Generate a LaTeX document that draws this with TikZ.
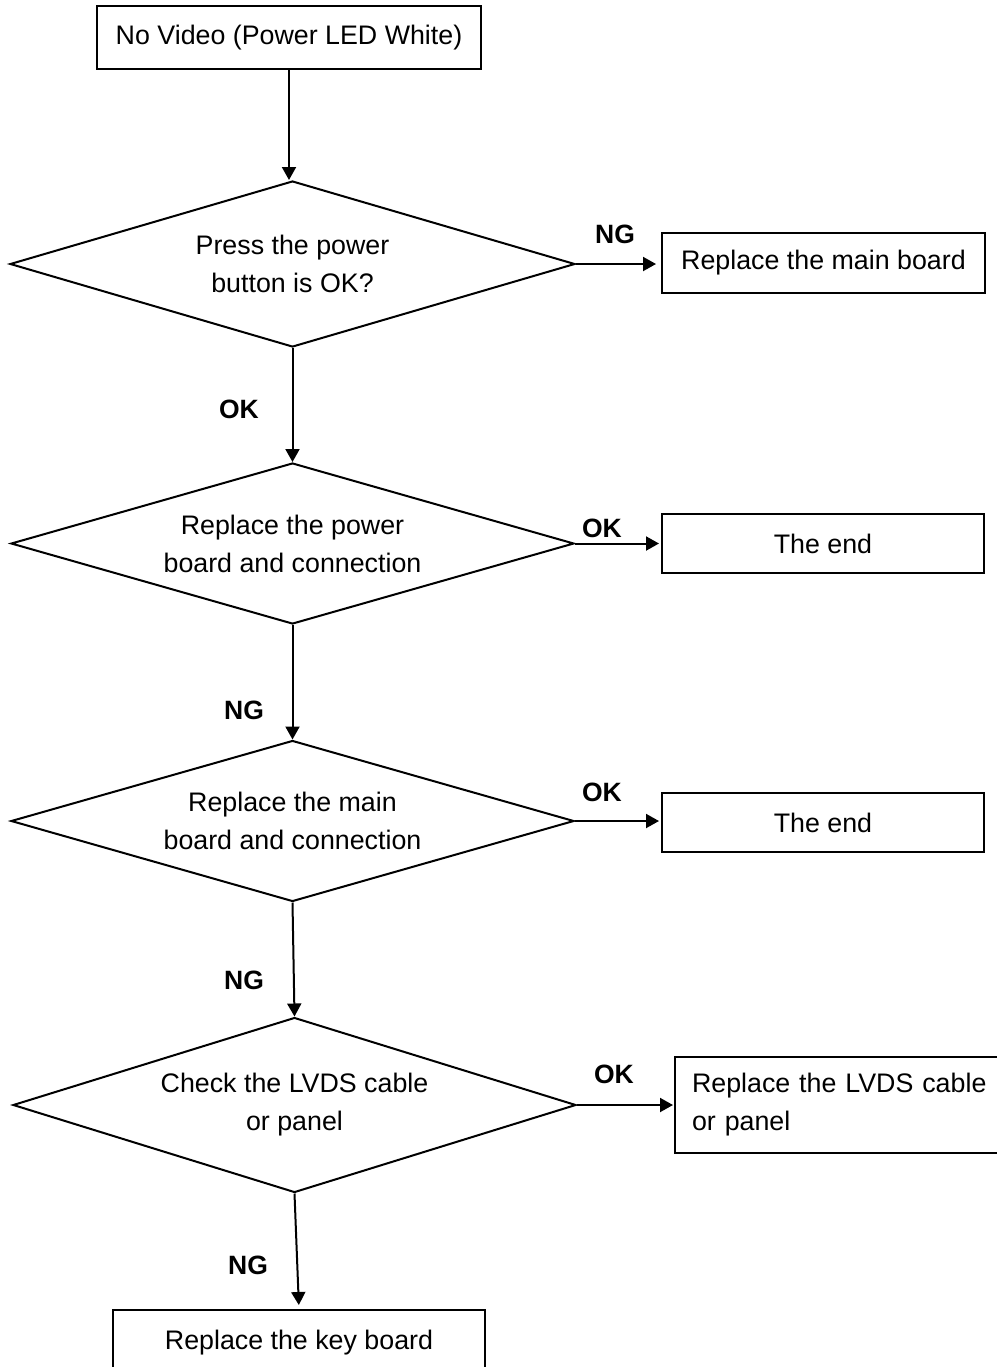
\documentclass[tikz,border=0pt]{standalone}
\usepackage{fontspec}
\setmainfont{Liberation Sans}
\usetikzlibrary{shapes.geometric,arrows.meta}
\begin{document}
\begin{tikzpicture}[x=0.5pt,y=-0.5pt,
  every node/.style={font=\fontsize{13.4}{19}\selectfont, inner sep=0pt},
  box/.style={draw, line width=1pt, align=center},
  dec/.style={draw, diamond, line width=1pt, align=center, shape aspect=3.4},
  lab/.style={font=\fontsize{13.25}{19}\selectfont\bfseries},
  arr/.style={line width=1pt, -{Triangle[width=7pt,length=6.5pt]}},
]
\useasboundingbox (0,0) rectangle (997,1367);
\node[box, minimum width=192pt, minimum height=31.5pt] (b0) at (289,37.5) {No Video (Power LED White)};
\node[dec, minimum width=282.5pt, minimum height=83pt] (d1) at (292.5,264) {Press the power\\button is OK?};
\node[box, minimum width=161.5pt, minimum height=30pt] (b1) at (823.5,263) {Replace the main board};
\node[dec, minimum width=281.5pt, minimum height=80.5pt] (d2) at (292.5,543.5) {Replace the power\\board and connection};
\node[box, minimum width=161pt, minimum height=29.5pt] (b2) at (823,543.5) {The end};
\node[dec, minimum width=281.5pt, minimum height=80.5pt] (d3) at (292.5,821) {Replace the main\\board and connection};
\node[box, minimum width=161pt, minimum height=29.5pt] (b3) at (823,822.5) {The end};
\node[dec, minimum width=281.5pt, minimum height=87.5pt] (d4) at (294.5,1105) {Check the LVDS cable\\or panel};
\node[box, anchor=west, text width=150pt, align=left, inner xsep=8.5pt, minimum height=48pt] (b4) at (674,1105) {Replace the LVDS cable\\or panel};
\node[box, minimum width=186pt, minimum height=33pt] (b5) at (299,1343) {Replace the key board};

\draw[arr] (b0.south) -- (b0.south |- d1.north);
\draw[arr] (d1.south) -- (d2.north);
\draw[arr] (d2.south) -- (d3.north);
\draw[arr] (d3.south) -- (d4.north);
\draw[arr, shorten >=2pt] (d4.south) -- (b5.north);
\draw[arr, shorten >=2.5pt] (d1.east) -- (d1.east -| b1.west);
\draw[arr, shorten >=1pt] (d2.east) -- (d2.east -| b2.west);
\draw[arr, shorten >=1pt] (d3.east) -- (d3.east -| b3.west);
\draw[arr, shorten >=0.5pt] (d4.east) -- (d4.east -| b4.west);

\node[lab] (l1) at (615,234) {NG};
\node[lab] (l2) at (239,409) {OK};
\node[lab] (l3) at (602,528) {OK};
\node[lab] (l4) at (244,710) {NG};
\node[lab] (l5) at (602,792) {OK};
\node[lab] (l6) at (244,980) {NG};
\node[lab] (l7) at (614,1074) {OK};
\node[lab] (l8) at (248,1265) {NG};
\end{tikzpicture}
\end{document}
